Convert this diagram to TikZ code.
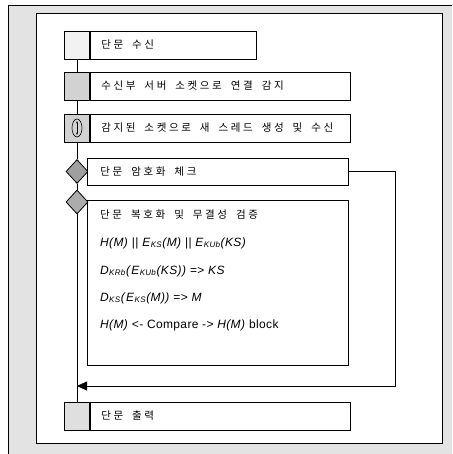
\documentclass[tikz,border=0pt]{standalone}
\usepackage{fontspec}
\setmainfont{Liberation Sans}
\newfontfamily\kr[LetterSpace=25, WordSpace=1.8]{Noto Sans CJK KR}
\usetikzlibrary{arrows.meta,positioning,shapes.geometric}
\newcommand{\Hm}{\textit{H(M)}}
\newcommand{\Ek}[1]{\textit{E}\textsubscript{\textit{#1}}}
\newcommand{\Dk}[1]{\textit{D}\textsubscript{\textit{#1}}}

\tikzset{
  icon/.style={draw, rectangle, minimum width=25pt, minimum height=28pt, inner sep=0pt, line width=0.8pt},
  stepbox/.style={draw, fill=white, rectangle, minimum height=28pt, text width=#1, inner xsep=11pt,
    align=flush left, anchor=west, line width=0.8pt, font=\kr\fontsize{10.5}{12}\selectfont},
  choice/.style={draw, diamond, minimum width=22pt, minimum height=24pt, inner sep=0pt, line width=0.8pt},
  line/.style={anchor=west, inner sep=0pt, font=\addfontfeature{LetterSpace=3}\fontsize{12}{14}\selectfont}
}

\begin{document}
\begin{tikzpicture}[x=1pt, y=-1pt]
\useasboundingbox (0,0) rectangle (452,454);
% frame
\fill[gray!22] (8,5) rectangle (452,454);
\draw[line width=0.8pt] (8,454) -- (8,5) -- (452,5);
\draw[fill=white, line width=0.8pt] (36,13) rectangle (442,443);
%
\node[icon, fill=gray!10] (i1) at (77,45) {};
\node[stepbox=144pt, right=0pt of i1] (b1) {단문 수신};
\node[icon, fill=gray!35] (i2) at (77,86) {};
\node[stepbox=238pt, right=0pt of i2] (b2) {수신부 서버 소켓으로 연결 감지};
\node[icon, fill=gray!35] (i3) at (77,128) {};
\node[stepbox=238pt, right=0pt of i3] (b3) {감지된 소켓으로 새 스레드 생성 및 수신};
\node[choice, fill=gray!75] (d1) at (77,171.5) {};
\node[stepbox=235pt, inner xsep=13pt, minimum height=27pt] (b4) at (87,171.5) {단문 암호화 체크};
\node[stepbox=235pt, inner xsep=13pt, minimum height=165pt, anchor=north west] (b5) at (87,200) {};
\node[choice, fill=gray!65] (d2) at (77,202) {};
\node[icon, fill=gray!25] (i6) at (77,416) {};
\node[stepbox=238pt, right=0pt of i6] (b6) {단문 출력};
%
\node[line, font=\kr\fontsize{10.5}{12}\selectfont] (t1) at (100,215) {단문 복호화 및 무결성 검증};
\node[line] (t2) at (100,243) {\Hm{} || \Ek{KS}\textit{(M)} || \Ek{KUb}\textit{(KS)}};
\node[line] (t3) at (100,271) {\Dk{KRb}\textit{(}\Ek{KUb}\textit{(KS))} => \textit{KS}};
\node[line] (t4) at (100,298) {\Dk{KS}\textit{(}\Ek{KS}\textit{(M))} => \textit{M}};
\node[line] (t5) at (100,325) {\Hm{} <- Compare -> \Hm{} block};
%
\draw[line width=0.6pt] (i3) ellipse (5pt and 9pt);
\draw[line width=0.6pt, {Stealth[length=2.5pt]}-{Stealth[length=2.5pt]}] ([yshift=7pt]i3.center) -- ([yshift=-7pt]i3.center);
%
\coordinate (c1) at (395,386);
\coordinate (c2) at (77,386);
\draw[line width=0.8pt] (i1) -- (i2);
\draw[line width=0.8pt] (i2) -- (i3);
\draw[line width=0.8pt] (i3) -- (d1);
\draw[line width=0.8pt] (d1) -- (d2);
\draw[line width=0.8pt] (d2) -- (i6);
\draw[line width=0.8pt, -{Triangle[length=10pt, width=9pt]}] (b4.east) -| (c1) -- (c2);
\end{tikzpicture}
\end{document}
